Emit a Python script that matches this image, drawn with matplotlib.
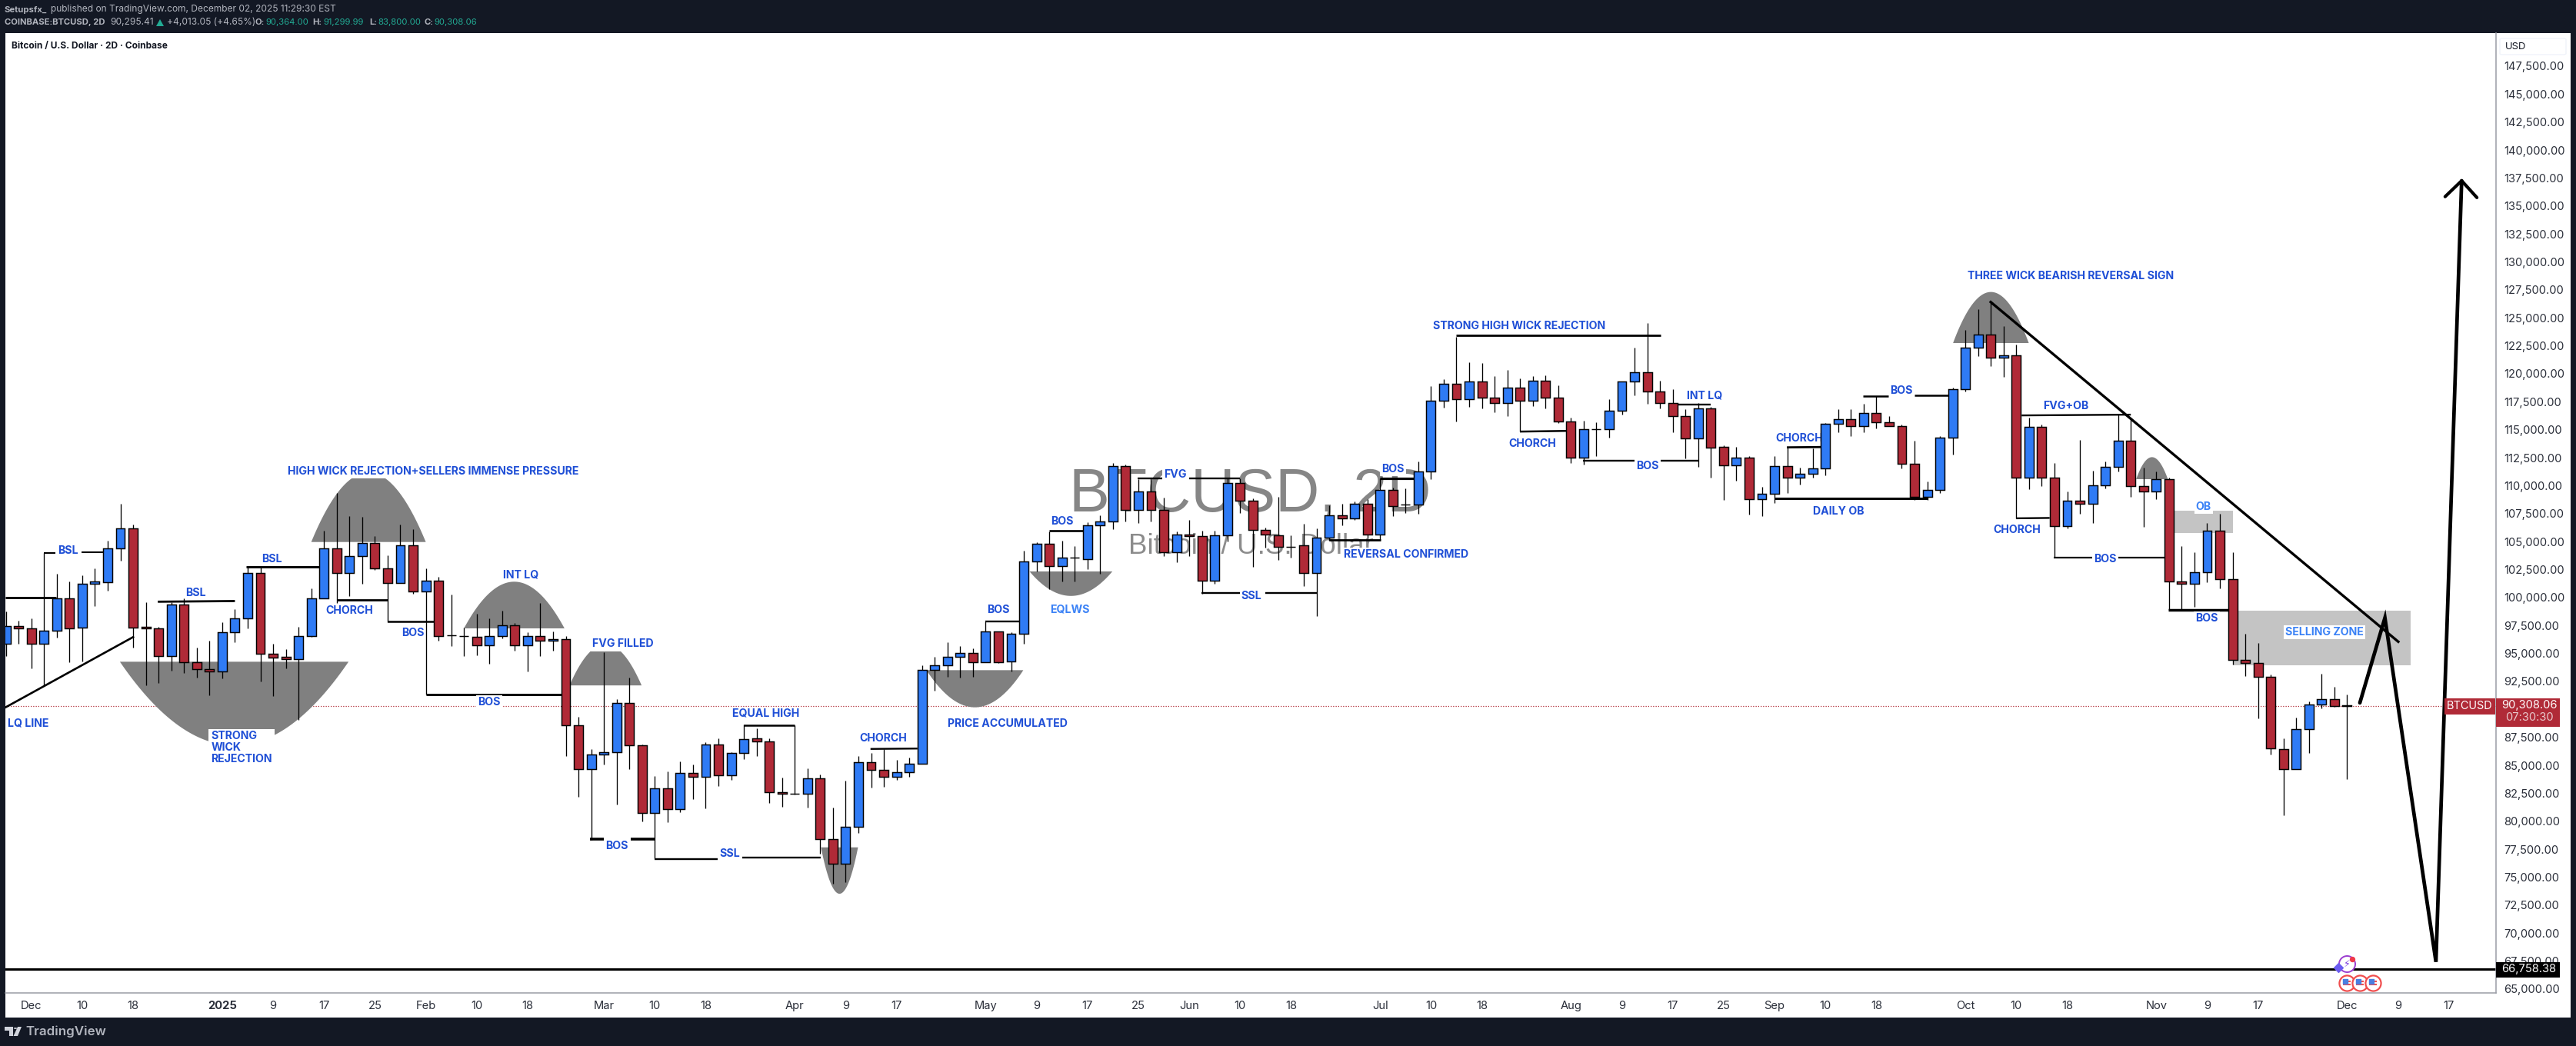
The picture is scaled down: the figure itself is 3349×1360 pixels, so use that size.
import numpy as np
import matplotlib
matplotlib.use('Agg')
import matplotlib.pyplot as plt
from matplotlib.patches import Rectangle, Circle, Polygon, FancyBboxPatch
from matplotlib.ticker import FuncFormatter

W, H = 3349, 1360
BLUE = '#2F7BF5'
RED = '#B02A37'
TXT_BLUE = '#1F4FD6'
TXT_LIGHT = '#3B82F6'
BG = '#131824'
GREY = '#B2B5BE'
TEAL = '#22AB94'
TICK = '#2A2E39'

plt.rcParams['font.family'] = ['Inter', 'DejaVu Sans']

# 2D candles, first bar is two bars before Dec 1 2024
first_bar = -2
opens = [
    95900, 97480, 97211, 95900, 97003, 99894, 97330, 101206, 101385, 104425,
    106154, 97360, 97211, 94737, 99358, 94200, 93574, 93366, 96883, 98165,
    102219, 95005, 94677, 94469, 96526, 99954, 104425, 102160, 103680, 104843,
    102577, 101265, 104693, 100550, 101474, 96600, 96525, 96466, 95750, 96585,
    97539, 95750, 96585, 96108, 96257, 88566, 84631, 85996, 86151, 90593,
    86777, 80722, 82910, 81062, 84343, 84003, 86832, 84078, 86078, 87435,
    87170, 82608, 82495, 82495, 83853, 78384, 76235, 79516, 85248, 84569,
    84003, 84418, 85173, 93506, 93959, 94675, 95014, 94185, 96938, 94298,
    96787, 103235, 104782, 102783, 103538, 103462, 106479, 106818, 111720, 107798,
    109458, 107798, 104027, 105649, 105460, 101538, 105573, 110250, 108665, 106064,
    105573, 104555, 104644, 102158, 105380, 107375, 107099, 108357, 105656, 109585,
    108296, 108296, 111242, 117564, 119129, 117748, 119283, 117902, 117411, 118792,
    117625, 119405, 117902, 115753, 112531, 115017, 115017, 116674, 119283, 120111,
    118393, 117411, 116244, 114250, 116889, 113451, 111794, 112531, 108818, 109247,
    111733, 110690, 111088, 111518, 115508, 115968, 115354, 116459, 115692, 115293,
    111978, 109032, 109648, 114314, 118647, 122313, 123479, 121413, 121680, 110747,
    115280, 110747, 106414, 108681, 108348, 110047, 111647, 114047, 109981, 109514,
    110547, 101448, 101248, 102281, 105948, 101615, 94449, 94182, 92882, 86482,
    84683, 88249, 90449, 90883, 90364,
]
highs = [
    98761, 97927, 98165, 103978, 102130, 101444, 101981, 102577, 105111, 108391,
    106512, 99566, 97360, 99566, 99894, 95512, 96138, 97807, 98970, 102770,
    102696, 95870, 95393, 97390, 100848, 105976, 109311, 107286, 107225, 105468,
    103769, 106512, 106120, 102577, 101862, 100282, 97330, 98552, 98135, 98851,
    97718, 96913, 99507, 96943, 96526, 89311, 86450, 95095, 90951, 92859,
    86837, 84041, 84456, 85361, 85097, 87058, 87435, 86153, 88680, 88302,
    87435, 83890, 88566, 84720, 84192, 81213, 83626, 85851, 86078, 86455,
    85474, 85663, 93959, 94712, 95995, 95656, 95467, 97843, 96938, 96900,
    104178, 104970, 105913, 105083, 104630, 106705, 107346, 112022, 111871, 110551,
    110664, 108930, 105913, 106931, 105988, 105988, 110664, 110664, 108854, 106215,
    109005, 105573, 106577, 106178, 108234, 108388, 108603, 108787, 110659, 109830,
    109769, 112163, 118914, 119528, 123272, 121032, 120971, 119804, 120357, 119590,
    119804, 119866, 118976, 116060, 115815, 115692, 117717, 119283, 122352, 124531,
    119375, 118638, 116828, 117380, 117012, 113636, 113482, 112623, 109891, 112623,
    113390, 111610, 113329, 115631, 116828, 116828, 117318, 117993, 116214, 115446,
    113984, 110382, 114447, 118747, 123946, 125779, 126412, 124246, 122613, 116047,
    115480, 112014, 109514, 114081, 111347, 112147, 116347, 116014, 111614, 111247,
    110747, 104582, 104015, 106648, 107481, 104015, 96748, 95915, 93149, 87416,
    89249, 90683, 93182, 92015, 91300,
]
lows = [
    94737, 95840, 93634, 92054, 96406, 94230, 94290, 99238, 100610, 103322,
    95542, 92143, 92352, 93455, 93246, 92859, 91249, 92769, 96019, 97241,
    92531, 91219, 93694, 89073, 96466, 99954, 99507, 100103, 101235, 102458,
    97778, 101265, 100312, 91309, 96138, 95661, 94767, 94826, 94111, 96347,
    95273, 93366, 94767, 95273, 85853, 82157, 78341, 85048, 81470, 84631,
    79981, 76687, 79931, 80797, 81967, 81138, 83136, 83702, 85549, 85814,
    81628, 81288, 82382, 81213, 77102, 74387, 74538, 78950, 83023, 83061,
    83702, 83966, 85173, 91696, 92940, 92827, 92903, 94185, 94147, 93393,
    95845, 102330, 100747, 101425, 101425, 102557, 102142, 106101, 106818, 106667,
    106780, 103688, 103160, 103688, 100370, 101199, 105008, 107534, 102745, 104442,
    103386, 103575, 101022, 98322, 105104, 106454, 106915, 105257, 105165, 107252,
    107559, 107498, 110567, 116981, 115723, 117073, 116920, 116551, 116214, 114833,
    117104, 116920, 115569, 112040, 111886, 112654, 114280, 116367, 118086, 117288,
    116920, 114740, 112408, 111702, 110689, 108695, 110413, 107436, 107313, 108480,
    109339, 110076, 110690, 110935, 114771, 114433, 114771, 115139, 115293, 111549,
    108695, 108695, 109314, 112747, 118413, 121613, 120680, 119713, 107081, 109681,
    109948, 103582, 106148, 107481, 106681, 109748, 111281, 109014, 106348, 108814,
    98881, 98881, 99148, 101348, 100848, 93982, 92982, 89182, 85982, 80517,
    84683, 86083, 90083, 90250, 83800,
]
closes = [
    97480, 97270, 95900, 97003, 99894, 97270, 101206, 101414, 104425, 106154,
    97330, 97211, 94737, 99358, 94200, 93574, 93366, 96883, 98165, 102219,
    95005, 94647, 94469, 96526, 99954, 104425, 102160, 103680, 104843, 102577,
    101265, 104693, 100550, 101474, 96585, 96600, 96525, 95750, 96585, 97539,
    95750, 96585, 96108, 96257, 88566, 84631, 85996, 86151, 90593, 86777,
    80726, 82910, 81062, 84343, 84003, 86832, 84078, 86078, 87359, 87170,
    82570, 82495, 82495, 83853, 78384, 76235, 79516, 85248, 84569, 84003,
    84418, 85173, 93506, 93959, 94675, 95014, 94185, 96938, 94223, 96787,
    103235, 104782, 102783, 103538, 103538, 106479, 106818, 111720, 107798, 109458,
    107798, 104027, 105649, 105460, 101538, 105573, 110250, 108628, 106064, 105611,
    104555, 104555, 102158, 105380, 107375, 107099, 108357, 105656, 109585, 108204,
    108296, 111242, 117564, 119129, 117748, 119283, 117902, 117411, 118792, 117625,
    119405, 117902, 115753, 112531, 115017, 115017, 116674, 119283, 120111, 118393,
    117411, 116244, 114250, 116889, 113421, 111794, 112531, 108818, 109247, 111733,
    110690, 111088, 111518, 115508, 115968, 115354, 116459, 115692, 115293, 111978,
    109032, 109646, 114314, 118647, 122313, 123479, 121413, 121680, 110747, 115280,
    110747, 106414, 108681, 108348, 110047, 111647, 114047, 109981, 109514, 110547,
    101448, 101248, 102281, 105948, 101615, 94449, 94182, 92882, 86549, 84683,
    88249, 90449, 90883, 90316, 90308,
]

last_price = 90308.06
floor_price = 66758.38

time_pos = [0, 4, 8, 15, 19, 23, 27, 31, 35, 39, 45, 49, 53, 60, 64, 68, 75, 79, 83, 87, 91, 95, 99,
            106, 110, 114, 121, 125, 129, 133, 137, 141, 145, 152, 156, 160, 167, 171, 175, 182, 186, 190]
time_lab = ['Dec', '10', '18', '2025', '9', '17', '25', 'Feb', '10', '18', 'Mar', '10', '18', 'Apr', '9', '17',
            'May', '9', '17', '25', 'Jun', '10', '18', 'Jul', '10', '18', 'Aug', '9', '17', '25', 'Sep', '10', '18',
            'Oct', '10', '18', 'Nov', '9', '17', 'Dec', '9', '17']
price_ticks = list(range(65000, 147501, 2500))

# gray half-ellipse shapes: start bar, end bar, base price, apex price, flat cut
dome_x0 = [22.0, 6.96, 34.0, 42.3, 62.06, 70.35, 78.45, 151.03, 165.42]
dome_x1 = [31.0, 24.93, 41.9, 47.96, 64.97, 77.96, 84.96, 156.98, 167.91]
dome_base = [104962, 94260, 97241, 92143, 77668, 93506, 102330, 122746, 110581]
dome_apex = [111185, 86778, 101414, 95835, 73520, 90187, 100143, 127312, 112547]
dome_cut = [110662, None, None, 95244, None, None, None, None, None]

# supply zones
zone_x0 = [168.38, 173.04]
zone_x1 = [173.01, 187.02]
zone_lo = [105748, 93915]
zone_hi = [107748, 98816]

# hand drawn level lines: bar0, bar1, price0, price1, width
seg_x0 = [-2.04, 1.0, 3.92, 9.94, 16.9, 24.0, 27.98, 31.0, 43.9, 47.1, 48.98, 55.88, 55.97, 65.95, 74.98, 79.97,
          86.96, 91.01, 91.98, 96.97, 102.0, 106.0, 111.97, 116.99, 121.97, 128.06, 129.39, 137.97, 136.98,
          143.96, 148.0, 156.42, 155.98, 158.97, 164.04, 167.94]
seg_x1 = [1.98, 1.91, 5.63, 16.0, 22.73, 28.0, 31.7, 41.64, 45.0, 49.0, 53.93, 62.03, 59.99, 69.64, 77.67, 82.66,
          88.9, 94.99, 94.96, 101.0, 106.04, 108.66, 128.03, 120.64, 125.99, 131.0, 132.01, 140.66, 149.01,
          145.97, 151.0, 165.0, 158.62, 161.99, 167.64, 172.68]
seg_p0 = [100013, 103978, 104068, 99626, 102756, 99805, 97867, 91339, 78400, 78400, 76651, 76725, 88604, 86465,
          97881, 105951, 110664, 110664, 100407, 100439, 105166, 110659, 123457, 114833, 112224, 112224, 117257,
          113421, 108878, 117994, 118047, 116280, 107081, 103582, 103582, 98881]
seg_p1 = [100013, 103978, 104068, 99685, 102756, 99805, 97867, 91339, 78400, 78400, 76651, 76725, 88604, 86500,
          97881, 105951, 110664, 110664, 100407, 100439, 105166, 110659, 123457, 114894, 112224, 112224, 117257,
          113451, 108878, 117994, 118047, 116347, 107114, 103582, 103582, 98881]
seg_thick = [2.1, 1.5, 1.5, 2.0, 2.1, 2.0, 1.8, 2.1, 2.6, 2.6, 1.7, 1.7, 1.8, 1.7,
             1.7, 1.9, 1.7, 1.7, 1.7, 1.7, 2.0, 2.3, 2.0, 1.8, 1.7, 1.7, 1.7, 2.0, 2.2,
             1.8, 1.8, 1.7, 1.7, 1.6, 1.6, 2.5]

# drawn path and arrow
lq_x = [-2.04, 8.0]
lq_p = [90176, 96466]
trend_x = [153.99, 186.02]
trend_p = [126412, 96049]
path_x = [183.0, 184.97, 188.98, 191.0]
path_p = [90583, 98182, 67426, 137256]
head_x = [189.7, 191.0, 192.2]
head_p = [135833, 137256, 135750]

# event icons under the last bars
flag_x = [182, 183, 184]
flag_p = [65548, 65548, 65548]

# chart labels: text, bar, price, colour, white box
notes = [
    ('HIGH WICK REJECTION+SELLERS IMMENSE PRESSURE', 31.58, 111276, TXT_BLUE, True),
    ('BSL', 2.88, 104157, TXT_BLUE, True),
    ('BSL', 12.92, 100401, TXT_BLUE, False),
    ('BSL', 18.91, 103412, TXT_BLUE, False),
    ('CHORCH', 25.0, 98821, TXT_BLUE, False),
    ('BOS', 29.99, 96824, TXT_BLUE, False),
    ('BOS', 35.98, 90653, TXT_BLUE, True),
    ('INT LQ', 38.47, 102040, TXT_BLUE, False),
    ('FVG FILLED', 46.5, 95840, TXT_BLUE, True),
    ('LQ LINE', -0.26, 88775, TXT_BLUE, False),
    ('BOS', 46.0, 77804, TXT_BLUE, True),
    ('EQUAL HIGH', 57.75, 89660, TXT_BLUE, False),
    ('SSL', 54.87, 77064, TXT_BLUE, True),
    ('CHORCH', 66.95, 87397, TXT_BLUE, False),
    ('PRICE ACCUMULATED', 76.73, 88717, TXT_BLUE, False),
    ('BOS', 75.99, 98899, TXT_BLUE, False),
    ('BOS', 81.04, 106780, TXT_BLUE, False),
    ('EQLWS', 81.62, 98936, TXT_LIGHT, False),
    ('FVG', 89.91, 111004, TXT_BLUE, True),
    ('SSL', 95.9, 100106, TXT_BLUE, True),
    ('REVERSAL CONFIRMED', 108.02, 103845, TXT_BLUE, True),
    ('BOS', 107.0, 111456, TXT_BLUE, True),
    ('STRONG HIGH WICK REJECTION', 116.92, 124254, TXT_BLUE, False),
    ('CHORCH', 117.96, 113728, TXT_BLUE, False),
    ('BOS', 127.02, 111733, TXT_BLUE, True),
    ('INT LQ', 131.5, 118055, TXT_BLUE, False),
    ('CHORCH', 138.94, 114219, TXT_BLUE, False),
    ('DAILY OB', 142.05, 107682, TXT_BLUE, False),
    ('BOS', 146.97, 118485, TXT_BLUE, False),
    ('THREE WICK BEARISH REVERSAL SIGN', 160.29, 128712, TXT_BLUE, False),
    ('FVG+OB', 159.88, 117080, TXT_BLUE, False),
    ('CHORCH', 156.04, 106014, TXT_BLUE, False),
    ('BOS', 163.01, 103448, TXT_BLUE, True),
    ('OB', 170.72, 108081, TXT_LIGHT, True),
    ('BOS', 170.98, 98115, TXT_BLUE, True),
    ('SELLING ZONE', 180.19, 96882, TXT_LIGHT, True),
]


def fx(x):
    return x / W


def fy(y):
    return 1 - y / H


fig = plt.figure(figsize=(W / 100, H / 100), dpi=100, facecolor=BG)

# white chart card
fig.patches.append(Rectangle((fx(6.5), fy(1323)), fx(3342 - 6.5), 1280 / H, transform=fig.transFigure,
                             facecolor='white', edgecolor='none', figure=fig))

ax = fig.add_axes([fx(6.5), fy(1291), fx(3244.5 - 6.5), (1291 - 43) / H])
ax.set_zorder(5)
ax.set_facecolor('white')
ax.patch.set_alpha(0)
ax.set_xlim(-2.07, 193.67)
ax.set_ylim(64654, 150456)

for s in ('left', 'top'):
    ax.spines[s].set_visible(False)
for s in ('right', 'bottom'):
    ax.spines[s].set_color('#9A9DA6')
    ax.spines[s].set_linewidth(1.1)

ax.yaxis.tick_right()
ax.set_yticks(price_ticks)
ax.yaxis.set_major_formatter(FuncFormatter(lambda v, p: f'{v:,.2f}'))
ax.tick_params(axis='y', length=0, pad=8, labelsize=10.6, labelcolor=TICK)
ax.set_xticks(time_pos)
ax.set_xticklabels(time_lab)
ax.tick_params(axis='x', length=0, pad=7, labelsize=10.6, labelcolor=TICK)
for lab, txt in zip(ax.get_xticklabels(), time_lab):
    if txt == '2025':
        lab.set_fontweight('bold')

# watermark sits under everything
ax.text(0.4998, 0.518, 'BTCUSD, 2D', transform=ax.transAxes, ha='center', va='center',
        fontsize=57, family=['Liberation Sans'], color='#808080', alpha=0.95, zorder=0)
ax.text(0.5002, 0.4655, 'Bitcoin / U.S. Dollar', transform=ax.transAxes, ha='center', va='center',
        fontsize=26.5, family=['Liberation Sans'], color='#808080', alpha=0.9, zorder=0)

# current price + floor line
ax.axhline(last_price, color=RED, lw=0.9, ls=(0, (1, 1.6)), zorder=1)
ax.axhline(floor_price, color='black', lw=2.2, zorder=2)

for a, b, lo, hi in zip(zone_x0, zone_x1, zone_lo, zone_hi):
    ax.add_patch(Rectangle((a, lo), b - a, hi - lo, facecolor='#C4C4C4', edgecolor='none', zorder=1.5))

for a, b, base, apex, cut in zip(dome_x0, dome_x1, dome_base, dome_apex, dome_cut):
    t = np.linspace(-1, 1, 120)
    yy = base + (apex - base) * (1 - t ** 2)
    if cut is not None:
        yy = np.minimum(yy, cut)
    ax.fill(a + (t + 1) / 2 * (b - a), yy, color='#808080', lw=0, zorder=1.8)

for a, b, p0, p1, lw in zip(seg_x0, seg_x1, seg_p0, seg_p1, seg_thick):
    ax.plot([a, b], [p0, p1], color='black', lw=lw, solid_capstyle='butt', zorder=2.5)

# candles
bars = np.arange(first_bar, first_bar + len(opens))
o = np.array(opens, dtype=float)
c = np.array(closes, dtype=float)
ax.vlines(bars, lows, highs, color='black', lw=0.95, zorder=3)
colors = [BLUE if cc > oo else RED for oo, cc in zip(o, c)]
ax.bar(bars, np.abs(c - o), bottom=np.minimum(o, c), width=0.72, color=colors, edgecolor='black',
       linewidth=1.05, zorder=4)

# drawn lines on top of candles
ax.plot(lq_x, lq_p, color='black', lw=1.9, zorder=5)
ax.plot(trend_x, trend_p, color='black', lw=2.4, zorder=5)
ax.plot(path_x, path_p, color='black', lw=3.4, solid_joinstyle='miter', solid_capstyle='round', zorder=5)
ax.plot(head_x, head_p, color='black', lw=3.0, solid_capstyle='round', zorder=5)

for txt, xx, pp, col, box in notes:
    kw = {}
    if box:
        kw['bbox'] = dict(facecolor='white', edgecolor='none', pad=1.5)
    ax.text(xx, pp, txt, ha='center', va='center', fontsize=10.2, fontweight='bold', color=col, zorder=2.8, **kw)
ax.text(14.12, 86569, 'STRONG\nWICK\nREJECTION', ha='left', va='center', fontsize=10.2, fontweight='bold',
        color=TXT_BLUE, linespacing=1.08, zorder=2.8,
        bbox=dict(facecolor='white', edgecolor='none', pad=2))

# event icons near last bar
ax.scatter(flag_x, flag_p, s=210, facecolor='white', edgecolor='#F04E4E', lw=1.6, zorder=6, clip_on=False)
ax.scatter(flag_x, [v + 170 for v in flag_p], s=42, marker='_', color='#F04E4E', zorder=7)
ax.scatter(flag_x, [v - 170 for v in flag_p], s=60, marker='_', color='#F04E4E', zorder=7)
ax.scatter([v - 0.12 for v in flag_x], [v + 170 for v in flag_p], s=24, marker='s', color='#4A7FE0', zorder=8)
ax.scatter([182.0], [67233], s=230, facecolor='white', edgecolor='#9C3FD0', lw=1.4, zorder=6)
ax.text(182.0, 67233, '\u26a1', fontsize=9, ha='center', va='center', color='#7C3FE0',
        family=['DejaVu Sans'], zorder=7)
ax.scatter([181.3], [66950], s=36, marker='D', color='#6B5CF0', zorder=7)
ax.scatter([182.4], [67680], s=18, color='#F0384A', zorder=7)

# price axis labels
fig.add_artist(Rectangle((fx(3245), fy(945)), 83 / W, 37 / H, transform=fig.transFigure, facecolor=RED,
                         edgecolor='none', zorder=10))
fig.add_artist(Rectangle((fx(3178), fy(929)), 66 / W, 21 / H, transform=fig.transFigure, facecolor=RED,
                         edgecolor='none', zorder=10))
fig.add_artist(Rectangle((fx(3245), fy(1271)), 83 / W, 20.5 / H, transform=fig.transFigure, facecolor='black',
                         edgecolor='none', zorder=10))
fig.text(fx(3211), fy(918.5), 'BTCUSD', ha='center', va='center', fontsize=10.4, color='white', zorder=11)
fig.text(fx(3288), fy(917), '90,308.06', ha='center', va='center', fontsize=10.6, color='white', zorder=11)
fig.text(fx(3288), fy(933), '07:30:30', ha='center', va='center', fontsize=10.6, color='#E8C9CC', zorder=11)
fig.text(fx(3288), fy(1260), '66,758.38', ha='center', va='center', fontsize=10.6, color='white', zorder=11)
fig.add_artist(FancyBboxPatch((fx(3250), fy(71)), 86 / W, 21 / H, boxstyle='round,pad=0,rounding_size=0.001',
                              transform=fig.transFigure, facecolor='white', edgecolor='#F0F3FA', lw=1, zorder=10))
fig.text(fx(3257), fy(60.5), 'USD', ha='left', va='center', fontsize=9.4, color='#131722', zorder=11)

# header bar
fig.text(fx(6), fy(12.5), 'Setupsfx_', ha='left', va='center', fontsize=8.1, fontweight='bold', color=GREY)
fig.text(fx(66), fy(12.5), 'published on TradingView.com, December 02, 2025 11:29:30 EST', ha='left', va='center',
         fontsize=8.6, color=GREY)
fig.text(fx(6), fy(29.5), 'COINBASE:BTCUSD, 2D', ha='left', va='center', fontsize=8.1, fontweight='bold', color=GREY)
fig.text(fx(143), fy(29.5), '90,295.41', ha='left', va='center', fontsize=8.6, color=GREY)
fig.add_artist(Polygon([[fx(203), fy(34)], [fx(213), fy(34)], [fx(208), fy(25)]], closed=True,
                       transform=fig.transFigure, facecolor=TEAL, edgecolor='none'))
fig.text(fx(217), fy(29.5), '+4,013.05 (+4.65%)', ha='left', va='center', fontsize=8.6, color=GREY)
for lx, lab, vx, val in [(331, 'O:', 345, '90,364.00'), (406, 'H:', 420, '91,299.99'),
                         (480, 'L:', 491, '83,800.00'), (552, 'C:', 564, '90,308.06')]:
    fig.text(fx(lx), fy(29.5), lab, ha='left', va='center', fontsize=8.1, fontweight='bold', color=GREY)
    fig.text(fx(vx), fy(29.5), val, ha='left', va='center', fontsize=8.2, color=TEAL)
fig.text(fx(15), fy(60), 'Bitcoin / U.S. Dollar \u00b7 2D \u00b7 Coinbase', ha='left', va='center', fontsize=8.6,
         fontweight='bold', color='#131722', zorder=11)

# footer logo
fig.add_artist(Polygon([[fx(6), fy(1335)], [fx(17), fy(1335)], [fx(17), fy(1347)], [fx(12), fy(1347)], [fx(12), fy(1340)],
                        [fx(6), fy(1340)]], closed=True, transform=fig.transFigure, facecolor='#D1D4DC', edgecolor='none'))
fig.add_artist(Polygon([[fx(23), fy(1335)], [fx(28), fy(1335)], [fx(23), fy(1347)], [fx(17.5), fy(1347)]], closed=True,
                       transform=fig.transFigure, facecolor='#D1D4DC', edgecolor='none'))
fig.add_artist(Circle((fx(20), fy(1337)), 2.2 / W, transform=fig.transFigure, facecolor='#D1D4DC', edgecolor='none'))
fig.text(fx(33), fy(1341), 'TradingView', ha='left', va='center', fontsize=12.2, fontweight='semibold', color='#B2B5BE')

fig.savefig('out.png', dpi=100, facecolor=fig.get_facecolor())
